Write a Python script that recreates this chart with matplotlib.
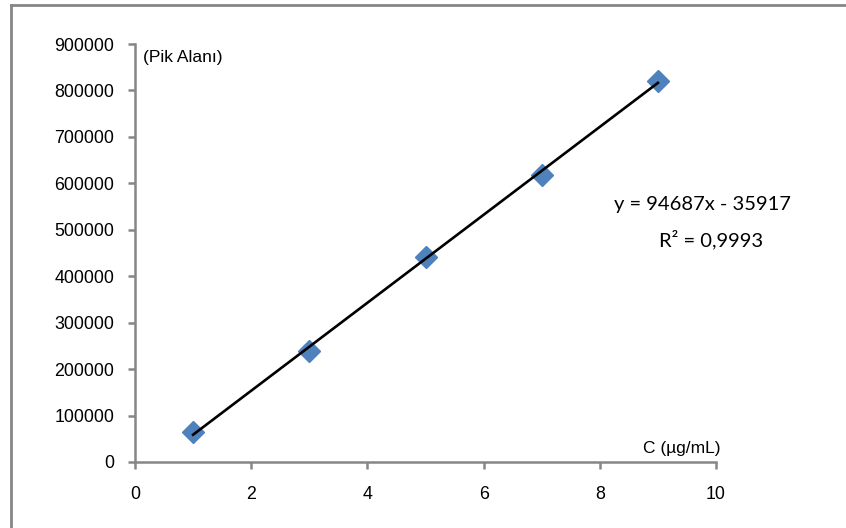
import numpy as np
import matplotlib.pyplot as plt
from matplotlib.lines import Line2D

conc = [1, 3, 5, 7, 9]
peak_area = [64500, 239000, 441500, 617000, 820000]
slope = 94687
intercept = -35917
r2_text = "R² = 0,9993"
x_ticks = [0, 2, 4, 6, 8, 10]
y_ticks = [0, 100000, 200000, 300000, 400000, 500000, 600000, 700000, 800000, 900000]

plt.rcParams['font.family'] = ['Liberation Sans', 'DejaVu Sans']

fig = plt.figure(figsize=(8.46, 5.28), dpi=100)
ax = fig.add_axes([135 / 846, (528 - 462) / 528, (716 - 135) / 846, (462 - 44) / 528])

grey = '#868686'

# trendline from x=1 to x=9
xt = np.array([conc[0], conc[-1]])
ax.plot(xt, slope * xt + intercept, color='black', lw=1.9, zorder=3)
ax.plot(conc, peak_area, linestyle='none', marker='D', markersize=11,
        color='#4F81BD', markeredgecolor='#4F81BD', zorder=2)

ax.set_xlim(0, 10)
ax.set_ylim(0, 900000)
ax.set_xticks(x_ticks)
ax.set_yticks(y_ticks)
ax.set_yticklabels([str(v) for v in y_ticks])

for side in ['top', 'right']:
    ax.spines[side].set_visible(False)
for side in ['left', 'bottom']:
    ax.spines[side].set_color(grey)
    ax.spines[side].set_linewidth(1.8)
ax.tick_params(direction='out', length=5, width=1.8, color=grey,
               labelsize=12.8, labelcolor='black')
ax.tick_params(axis='x', pad=12)
ax.tick_params(axis='y', pad=10)

ax.text(0.14, 888000, "(Pik Alanı)", fontsize=12.5, va='top', ha='left')
ax.text(10.07, 12000, "C (µg/mL)", fontsize=12.5, va='bottom', ha='right')

ax.text(9.76, 555000, "y = 94687x - 35917", fontsize=14.5, ha='center',
        va='center', family=['Lato', 'DejaVu Sans'])
ax.text(9.91, 478000, r2_text, fontsize=14.5, ha='center',
        va='center', family=['Lato', 'DejaVu Sans'])

# outer chart-area border
fig.add_artist(Line2D([11 / 846, 11 / 846], [0, 1 - 5 / 528], transform=fig.transFigure,
                      color=grey, lw=2))
fig.add_artist(Line2D([11 / 846, 1], [1 - 5 / 528, 1 - 5 / 528], transform=fig.transFigure,
                      color=grey, lw=2))

fig.savefig('out.png', dpi=100)
